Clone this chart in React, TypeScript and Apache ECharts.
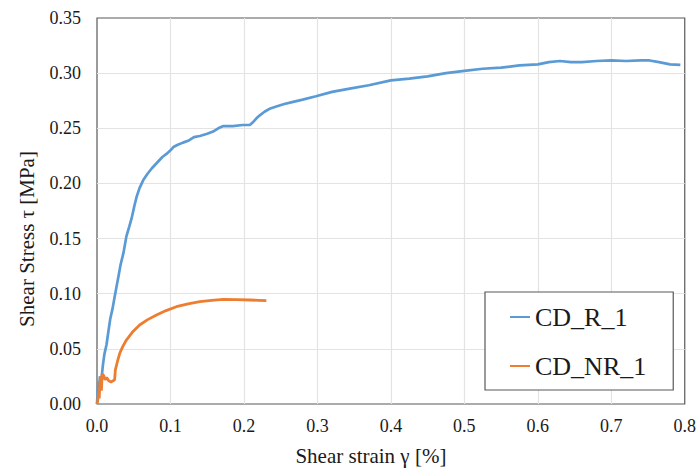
import React, { useEffect, useRef } from "react";
import * as echarts from "echarts";

const seriesNames = ["CD_R_1", "CD_NR_1"];
const seriesColors = ["#5B9BD5", "#ED7D31"];

const cdR1: [number, number][] = [
  [0, 0], [0.001, 0.012], [0.002, 0.02], [0.003, 0.016], [0.004, 0.025], [0.006, 0.022],
  [0.008, 0.035], [0.010, 0.045], [0.013, 0.054], [0.016, 0.068], [0.018, 0.077],
  [0.021, 0.086], [0.024, 0.097], [0.027, 0.108], [0.029, 0.115], [0.032, 0.126],
  [0.036, 0.137], [0.040, 0.152], [0.044, 0.161], [0.047, 0.168], [0.051, 0.180],
  [0.054, 0.188], [0.058, 0.196], [0.063, 0.203], [0.069, 0.209], [0.075, 0.214],
  [0.082, 0.219], [0.089, 0.224], [0.095, 0.227], [0.100, 0.230], [0.104, 0.233],
  [0.110, 0.235], [0.117, 0.237], [0.125, 0.239], [0.132, 0.242], [0.140, 0.243],
  [0.150, 0.245], [0.158, 0.247], [0.165, 0.250], [0.172, 0.252], [0.185, 0.252],
  [0.198, 0.253], [0.208, 0.253], [0.213, 0.256], [0.217, 0.259], [0.222, 0.262],
  [0.228, 0.265], [0.236, 0.268], [0.244, 0.2697], [0.255, 0.272], [0.267, 0.274],
  [0.280, 0.276], [0.298, 0.279], [0.32, 0.283], [0.344, 0.286], [0.37, 0.289],
  [0.40, 0.2935], [0.425, 0.295], [0.45, 0.297], [0.475, 0.300], [0.50, 0.302],
  [0.525, 0.304], [0.55, 0.305], [0.575, 0.307], [0.60, 0.308], [0.615, 0.310],
  [0.63, 0.311], [0.645, 0.310], [0.66, 0.310], [0.68, 0.311], [0.70, 0.3115],
  [0.72, 0.311], [0.74, 0.3115], [0.752, 0.3115], [0.765, 0.310], [0.78, 0.308],
  [0.794, 0.3075],
];

const cdNR1: [number, number][] = [
  [0, 0], [0.001, 0.003], [0.002, 0.01], [0.003, 0.005], [0.004, 0.02], [0.005, 0.025],
  [0.006, 0.012], [0.007, 0.027], [0.009, 0.026], [0.011, 0.022], [0.013, 0.024],
  [0.016, 0.021], [0.019, 0.020], [0.022, 0.021], [0.024, 0.022], [0.025, 0.031],
  [0.028, 0.039], [0.031, 0.046], [0.035, 0.052], [0.040, 0.058], [0.048, 0.065],
  [0.058, 0.0716], [0.069, 0.0765], [0.081, 0.0807], [0.094, 0.0847], [0.108, 0.0882],
  [0.124, 0.0908], [0.140, 0.0928], [0.156, 0.094], [0.172, 0.0949], [0.19, 0.0946],
  [0.208, 0.0943], [0.22, 0.094], [0.2305, 0.0937],
];

const xAxisTitle = "Shear strain γ [%]";
const yAxisTitle = "Shear Stress τ [MPa]";

const FONT = "Liberation Serif";

export default function App() {
  const ref = useRef<HTMLDivElement>(null);
  useEffect(() => {
    if (!ref.current) return;
    const chart = echarts.init(ref.current, undefined, { renderer: "svg" });
    chart.setOption({
      animation: false,
      backgroundColor: "#ffffff",
      textStyle: { fontFamily: FONT, color: "#1a1a1a" },
      grid: {
        left: 97, top: 18, right: 13, bottom: 67,
        show: true, borderColor: "#595959", borderWidth: 1.2,
      },
      legend: {
        orient: "vertical",
        left: 485, top: 292,
        padding: [12, 27, 11, 25],
        itemGap: 23,
        itemWidth: 20, itemHeight: 2,
        icon: "rect",
        borderColor: "#595959", borderWidth: 1.2,
        backgroundColor: "#fff",
        textStyle: { fontFamily: FONT, fontSize: 26, color: "#1a1a1a", lineHeight: 26 },
        data: seriesNames,
      },
      xAxis: {
        type: "value",
        min: 0, max: 0.8, interval: 0.1,
        name: xAxisTitle,
        nameLocation: "middle",
        nameGap: 41,
        nameTextStyle: { fontFamily: FONT, fontSize: 21, color: "#1a1a1a", padding: [0, 40, 0, 0] },
        axisLine: { show: false },
        axisTick: { show: false },
        axisLabel: { fontFamily: FONT, fontSize: 18, color: "#1a1a1a", margin: 13, formatter: (v: number) => v.toFixed(1) },
        splitLine: { show: true, showMinLine: false, showMaxLine: false, lineStyle: { color: "#e3e3e3", width: 1.2 } },
      },
      yAxis: {
        type: "value",
        min: 0, max: 0.35, interval: 0.05,
        name: yAxisTitle,
        nameLocation: "middle",
        nameGap: 60,
        nameTextStyle: { fontFamily: FONT, fontSize: 21, color: "#1a1a1a", padding: [0, 56, 0, 0] },
        axisLine: { show: false },
        axisTick: { show: false },
        axisLabel: { fontFamily: FONT, fontSize: 18, color: "#1a1a1a", margin: 16, formatter: (v: number) => v.toFixed(2) },
        splitLine: { show: true, showMinLine: false, showMaxLine: false, lineStyle: { color: "#e3e3e3", width: 1.2 } },
      },
      series: [
        {
          name: seriesNames[0], type: "line", data: cdR1, showSymbol: false, symbol: "none",
          lineStyle: { color: seriesColors[0], width: 2.7 }, itemStyle: { color: seriesColors[0] },
        },
        {
          name: seriesNames[1], type: "line", data: cdNR1, showSymbol: false, symbol: "none",
          lineStyle: { color: seriesColors[1], width: 2.8 }, itemStyle: { color: seriesColors[1] },
        },
      ],
    });
    return () => chart.dispose();
  }, []);
  return <div ref={ref} style={{ width: 699, height: 471, position: "absolute", left: 0, top: 0 }} />;
}
